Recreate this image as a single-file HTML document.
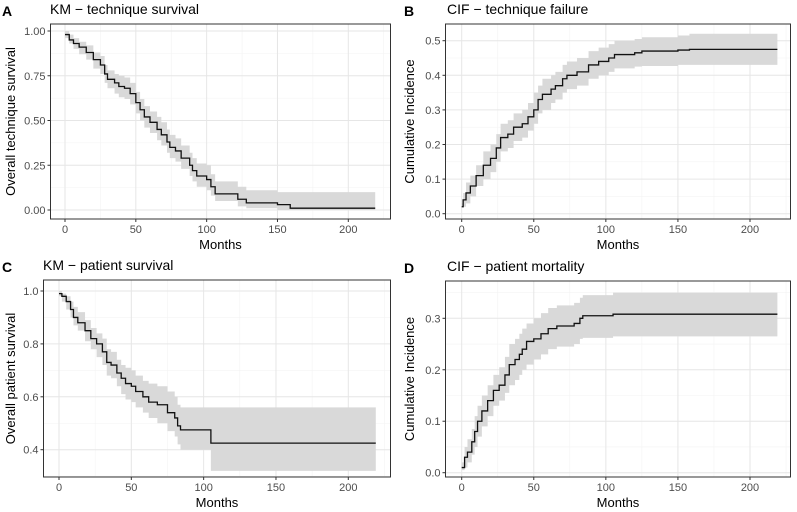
<!DOCTYPE html>
<html><head><meta charset="utf-8">
<style>
html,body{margin:0;padding:0;background:#fff;}
svg{display:block;font-family:"Liberation Sans",Arial,sans-serif;}
</style></head>
<body>
<svg id="fig" width="797" height="512" viewBox="0 0 797 512"></svg>
<script>
// ---- Panel A: KM technique survival ----
const aTime  = [0,3,6,10,15,20,25,28,30,35,38,42,46,50,53,56,60,65,68,72,74,78,82,88,90,93,100,103,106,122,128,150,159,219];
const aSurv  = [0.98,0.95,0.93,0.91,0.88,0.84,0.81,0.76,0.73,0.71,0.69,0.68,0.65,0.60,0.56,0.52,0.49,0.45,0.42,0.38,0.35,0.33,0.29,0.25,0.22,0.19,0.17,0.13,0.09,0.06,0.04,0.03,0.01,0.01];
const aLow   = [0.96,0.93,0.90,0.87,0.84,0.79,0.76,0.71,0.68,0.65,0.63,0.62,0.59,0.54,0.50,0.46,0.43,0.39,0.36,0.32,0.29,0.27,0.23,0.19,0.16,0.13,0.11,0.08,0.05,0.02,0.01,0.0,0.0,0.0];
const aHigh  = [1.0,0.98,0.96,0.94,0.92,0.88,0.86,0.81,0.78,0.76,0.75,0.74,0.71,0.66,0.62,0.58,0.55,0.52,0.49,0.45,0.42,0.40,0.36,0.32,0.29,0.26,0.25,0.20,0.16,0.13,0.11,0.10,0.10,0.10];
// ---- Panel B: CIF technique failure ----
const bTime  = [0,1,3,6,10,15,20,24,27,32,36,42,46,50,53,56,62,65,70,73,80,88,95,102,106,120,125,150,158,219];
const bCif   = [0.02,0.04,0.06,0.08,0.11,0.14,0.16,0.19,0.22,0.23,0.25,0.26,0.28,0.30,0.33,0.345,0.36,0.37,0.39,0.40,0.41,0.43,0.44,0.45,0.46,0.465,0.47,0.473,0.475,0.475];
const bLow   = [0.02,0.02,0.03,0.05,0.08,0.10,0.12,0.15,0.18,0.19,0.21,0.22,0.24,0.26,0.29,0.30,0.32,0.33,0.35,0.36,0.37,0.39,0.40,0.41,0.42,0.425,0.427,0.43,0.43,0.43];
const bHigh  = [0.03,0.06,0.09,0.11,0.14,0.18,0.20,0.23,0.26,0.27,0.29,0.30,0.32,0.35,0.37,0.39,0.40,0.41,0.43,0.44,0.45,0.47,0.48,0.49,0.50,0.505,0.51,0.515,0.52,0.52];
// ---- Panel C: KM patient survival ----
const cTime  = [0,2,5,8,10,13,18,22,26,30,33,36,40,43,46,50,53,58,62,68,75,80,82,84,105,219];
const cSurv  = [0.99,0.98,0.96,0.93,0.90,0.88,0.85,0.82,0.80,0.77,0.73,0.72,0.69,0.67,0.65,0.64,0.62,0.60,0.58,0.57,0.54,0.52,0.49,0.475,0.425,0.425];
const cLow   = [0.98,0.96,0.93,0.90,0.87,0.85,0.81,0.78,0.75,0.72,0.68,0.67,0.64,0.61,0.59,0.58,0.56,0.54,0.52,0.50,0.47,0.45,0.42,0.40,0.32,0.32];
const cHigh  = [1.0,0.99,0.98,0.96,0.94,0.92,0.89,0.86,0.84,0.82,0.78,0.77,0.74,0.72,0.71,0.70,0.68,0.66,0.65,0.64,0.62,0.60,0.57,0.56,0.56,0.56];
// ---- Panel D: CIF patient mortality ----
const dTime  = [0,2,4,7,9,11,14,18,22,26,30,33,37,40,42,45,50,55,60,66,78,82,84,105,219];
const dCif   = [0.01,0.03,0.04,0.06,0.08,0.10,0.12,0.14,0.16,0.17,0.19,0.21,0.22,0.23,0.24,0.255,0.26,0.27,0.28,0.285,0.29,0.30,0.305,0.308,0.308];
const dLow   = [0.005,0.01,0.02,0.035,0.05,0.07,0.09,0.11,0.13,0.14,0.155,0.17,0.18,0.19,0.20,0.21,0.22,0.23,0.24,0.245,0.25,0.26,0.262,0.265,0.265];
const dHigh  = [0.02,0.05,0.065,0.085,0.11,0.13,0.15,0.17,0.19,0.205,0.225,0.25,0.26,0.27,0.28,0.29,0.30,0.31,0.32,0.325,0.33,0.34,0.345,0.35,0.35];

const xTicks = [0,50,100,150,200];
const aYTicks = [0,0.25,0.5,0.75,1.0], aYLabels = ["0.00","0.25","0.50","0.75","1.00"];
const bYTicks = [0,0.1,0.2,0.3,0.4,0.5], bYLabels = ["0.0","0.1","0.2","0.3","0.4","0.5"];
const cYTicks = [0.4,0.6,0.8,1.0], cYLabels = ["0.4","0.6","0.8","1.0"];
const dYTicks = [0,0.1,0.2,0.3], dYLabels = ["0.0","0.1","0.2","0.3"];

const NS="http://www.w3.org/2000/svg";
const svg=document.getElementById('fig');
function mk(tag,attrs,parent){const e=document.createElementNS(NS,tag);for(const k in attrs)e.setAttribute(k,attrs[k]);(parent||svg).appendChild(e);return e;}

function panel(cfg){
  const g=mk('g',{});
  
  
  const sx=v=>cfg.x0+(cfg.x200-cfg.x0)*v/200;
  const sy=v=>cfg.ya+(cfg.yb-cfg.ya)*(v-cfg.va)/(cfg.vb-cfg.va);
  const L=cfg.box[0],T=cfg.box[1],R=cfg.box[2],B=cfg.box[3];
  mk('rect',{x:L,y:T,width:R-L,height:B-T,fill:'#fff'},g);
  // minor grid
  const mx=[];for(let i=0;i<xTicks.length-1;i++)mx.push((xTicks[i]+xTicks[i+1])/2);mx.push(225);mx.push(-25);
  mx.forEach(v=>{const x=sx(v);if(x>L&&x<R)mk('line',{x1:x,x2:x,y1:T,y2:B,stroke:'#f3f3f3','stroke-width':0.6},g);});
  const st=cfg.yt[1]-cfg.yt[0];const my=[cfg.yt[0]-st/2];cfg.yt.forEach(v=>my.push(v+st/2));
  my.forEach(v=>{const y=sy(v);if(y>T&&y<B)mk('line',{x1:L,x2:R,y1:y,y2:y,stroke:'#f3f3f3','stroke-width':0.6},g);});
  // major grid
  xTicks.forEach(v=>{const x=sx(v);mk('line',{x1:x,x2:x,y1:T,y2:B,stroke:'#e6e6e6','stroke-width':1},g);});
  cfg.yt.forEach(v=>{const y=sy(v);mk('line',{x1:L,x2:R,y1:y,y2:y,stroke:'#e6e6e6','stroke-width':1},g);});
  // band
  let p='M'+sx(cfg.t[0])+','+sy(cfg.hi[0]);
  for(let i=1;i<cfg.t.length;i++){p+=' H'+sx(cfg.t[i])+' V'+sy(cfg.hi[i]);}
  p+=' V'+sy(cfg.lo[cfg.t.length-1]);
  for(let i=cfg.t.length-1;i>0;i--){p+=' H'+sx(cfg.t[i])+' V'+sy(cfg.lo[i-1]);}
  p+=' H'+sx(cfg.t[0])+'Z';
  const band=mk('path',{d:p,fill:'#d9d9d9',stroke:'none'},g);
  
  
  // line
  let q='M'+sx(cfg.t[0])+','+sy(cfg.v[0]);
  for(let i=1;i<cfg.t.length;i++){q+=' H'+sx(cfg.t[i])+' V'+sy(cfg.v[i]);}
  const ln=mk('path',{d:q,fill:'none',stroke:'#111','stroke-width':1.3},g);
  
  
  mk('rect',{x:L,y:T,width:R-L,height:B-T,fill:'none',stroke:'#333','stroke-width':1},g);
  // ticks
  xTicks.forEach(v=>{const x=sx(v);mk('line',{x1:x,x2:x,y1:B,y2:B+3,stroke:'#333'},g);
    const t=mk('text',{x:x,y:B+14,'text-anchor':'middle','font-size':11,fill:'#4d4d4d'},g);t.textContent=v;
    
    });
  cfg.yt.forEach((v,i)=>{const y=sy(v);mk('line',{x1:L-3,x2:L,y1:y,y2:y,stroke:'#333'},g);
    const t=mk('text',{x:L-5,y:y+4,'text-anchor':'end','font-size':11,fill:'#4d4d4d'},g);t.textContent=cfg.yl[i];
    
    });
  const xt=mk('text',{x:(L+R)/2,y:B+30,'text-anchor':'middle','font-size':13,fill:'#000'},g);xt.textContent='Months';
  
  
  const cy=(T+B)/2;
  const yt=mk('text',{x:cfg.ytx,y:cy,'text-anchor':'middle','font-size':13,fill:'#000',transform:'rotate(-90 '+cfg.ytx+' '+cy+')'},g);yt.textContent=cfg.ytitle;
  
  
  const lt=mk('text',{x:cfg.lx,y:T-8,'font-size':14,'font-weight':'bold',fill:'#000'},g);lt.textContent=cfg.letter;
  
  
  const tt=mk('text',{x:cfg.tx,y:T-10,'font-size':14,fill:'#000'},g);tt.textContent=cfg.title;
  
  
}

panel({name:'panel-a',box:[50.5,24,390.5,219],x0:65,x200:348.3,va:0,ya:210,vb:1,yb:31,yt:aYTicks,yl:aYLabels,
  t:aTime,v:aSurv,lo:aLow,hi:aHigh,ytitle:'Overall technique survival',ytx:15,letter:'A',lx:2,tx:50,title:'KM \u2212 technique survival'});
panel({name:'panel-b',box:[445.5,24,790.5,219],x0:461.7,x200:750,va:0,ya:213.7,vb:0.5,yb:40.7,yt:bYTicks,yl:bYLabels,
  t:bTime,v:bCif,lo:bLow,hi:bHigh,ytitle:'Cumulative Incidence',ytx:414,letter:'B',lx:404,tx:447,title:'CIF \u2212 technique failure'});
panel({name:'panel-c',box:[43.5,280,390.5,477],x0:59,x200:348.3,va:0.4,ya:449.7,vb:1,yb:291,yt:cYTicks,yl:cYLabels,
  t:cTime,v:cSurv,lo:cLow,hi:cHigh,ytitle:'Overall patient survival',ytx:15,letter:'C',lx:2,tx:43,title:'KM \u2212 patient survival'});
panel({name:'panel-d',box:[445.5,281,790.5,477],x0:461.7,x200:750,va:0,ya:472.7,vb:0.3,yb:318.3,yt:dYTicks,yl:dYLabels,
  t:dTime,v:dCif,lo:dLow,hi:dHigh,ytitle:'Cumulative Incidence',ytx:414,letter:'D',lx:404,tx:447,title:'CIF \u2212 patient mortality'});
</script>
</body></html>
